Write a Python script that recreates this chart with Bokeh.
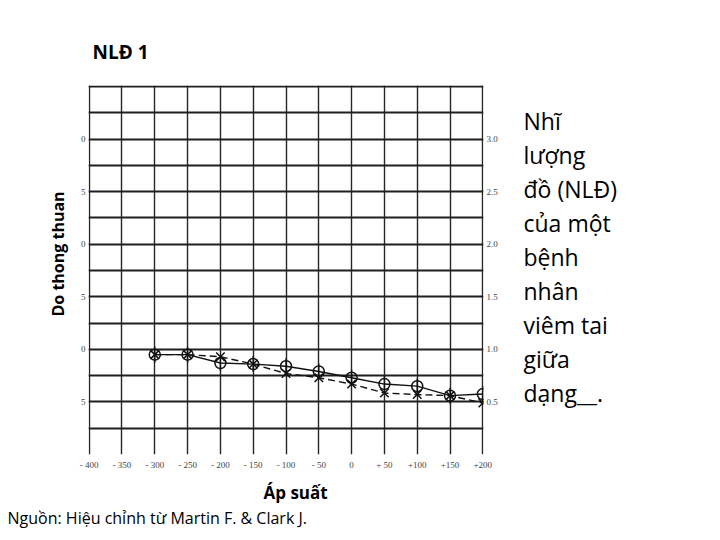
import math
from bokeh.plotting import figure
from bokeh.layouts import row
from bokeh.models import Range1d, FixedTicker, LinearAxis, Label, Title
from bokeh.embed import file_html
from bokeh.resources import INLINE

# ---- data ----
pressure = [-300, -250, -200, -150, -100, -50, 0, 50, 100, 150, 200]
compliance_circle = [0.95, 0.95, 0.87, 0.86, 0.84, 0.79, 0.73, 0.67, 0.65, 0.56, 0.575]
compliance_cross = [0.95, 0.95, 0.93, 0.86, 0.77, 0.73, 0.67, 0.585, 0.57, 0.56, 0.49]

x_ticks = [-400, -350, -300, -250, -200, -150, -100, -50, 0, 50, 100, 150, 200]
x_tick_labels = ["- 400", "- 350", "- 300", "- 250", "- 200", "- 150", "- 100",
                 "- 50", "0", "+ 50", "+100", "+150", "+200"]
y_ticks = [0.5, 1.0, 1.5, 2.0, 2.5, 3.0]
y_right_labels = ["0.5", "1.0", "1.5", "2.0", "2.5", "3.0"]
y_left_labels = ["5", "0", "5", "0", "5", "0"]
y_grid = [0.25, 0.5, 0.75, 1.0, 1.25, 1.5, 1.75, 2.0, 2.25, 2.5, 2.75, 3.0, 3.25, 3.5]

title_text = "NLĐ 1"
y_title = "Do thong thuan"
x_title = "Áp suất"
source_text = "Nguồn: Hiệu chỉnh từ Martin F. & Clark J."
side_lines = ["Nhĩ", "lượng", "đồ (NLĐ)", "của một", "bệnh", "nhân", "viêm tai", "giữa", "dạng__."]

FONT = "Open Sans"
INK = "#111111"
TOP, BOTTOM = 85, 78

p = figure(width=513, height=532,
           x_range=Range1d(-401, 201), y_range=Range1d(0, 3.51),
           output_backend="svg", toolbar_location=None,
           min_border_left=88, min_border_right=30,
           min_border_top=TOP, min_border_bottom=BOTTOM,
           outline_line_color=None, background_fill_color="white",
           border_fill_color="white")

# title above
p.title.text = title_text
p.title.align = "left"
p.title.offset = 4
p.title.standoff = 41
p.title.text_font = FONT
p.title.text_font_size = "19px"
p.title.text_font_style = "bold"
p.title.text_color = "black"

# axes
xa = p.xaxis[0]
xa.ticker = FixedTicker(ticks=x_ticks)
xa.major_label_overrides = {t: l for t, l in zip(x_ticks, x_tick_labels)}
ya = p.yaxis[0]
ya.ticker = FixedTicker(ticks=y_ticks)
ya.major_label_overrides = {t: l for t, l in zip(y_ticks, y_left_labels)}
ra = LinearAxis(ticker=FixedTicker(ticks=y_ticks),
                major_label_overrides={t: l for t, l in zip(y_ticks, y_right_labels)})
p.add_layout(ra, "right")

for ax in [xa, ya, ra]:
    ax.axis_line_color = None
    ax.major_tick_line_color = None
    ax.minor_tick_line_color = None
    ax.major_tick_out = 0
    ax.major_tick_in = 0
    ax.minor_tick_out = 0
    ax.minor_tick_in = 0
    ax.major_label_text_font = "Liberation Serif"
    ax.major_label_text_font_size = "9px"
    ax.major_label_text_color = "#444444"
xa.major_label_standoff = 5
ya.major_label_standoff = 3
ra.major_label_standoff = 3

# axis titles as side titles
p.add_layout(Title(text=y_title, align="left", offset=138, standoff=17,
                   text_font=FONT, text_font_size="16px", text_font_style="bold",
                   text_color="black"), "left")
p.add_layout(Title(text=x_title, align="left", offset=175, standoff=12,
                   text_line_height=0.7,
                   text_font=FONT, text_font_size="17px", text_font_style="bold",
                   text_color="black"), "below")
src_title = Title(text=source_text, align="left", offset=-81, standoff=0,
                  text_font=FONT, text_font_size="16px", text_font_style="normal",
                  text_color="black")
try:
    src_title.standoff = -9
except Exception:
    src_title.standoff = 0
p.add_layout(src_title, "below")

# grid
p.xgrid.grid_line_color = "#262626"
p.xgrid.grid_line_width = 1.4
p.xgrid.grid_line_alpha = 1.0
p.ygrid.ticker = FixedTicker(ticks=y_grid)
p.ygrid.grid_line_color = "#1e1e1e"
p.ygrid.grid_line_width = 1.8
p.ygrid.grid_line_alpha = 1.0

# series
p.line(pressure, compliance_circle, line_color=INK, line_width=1.4)
p.line(pressure, compliance_cross, line_color=INK, line_width=1.4, line_dash="7 4")
p.scatter(pressure, compliance_circle, marker="circle", size=11, fill_color=None,
          line_color=INK, line_width=1.5)
p.scatter(pressure, compliance_circle, marker="dash", angle=math.pi / 2, size=16,
          line_color=INK, line_width=1.4)
p.scatter(pressure, compliance_cross, marker="x", size=12,
          line_color=INK, line_width=1.5)

# side text panel (frame aligned with the chart frame)
side = figure(width=199, height=532, x_range=Range1d(0, 1), y_range=Range1d(0, 1),
              output_backend="svg", toolbar_location=None, title=None,
              x_axis_type=None, y_axis_type=None,
              min_border_left=0, min_border_right=0,
              min_border_top=TOP, min_border_bottom=BOTTOM,
              outline_line_color=None, background_fill_color="white",
              border_fill_color="white")
side.xgrid.visible = False
side.ygrid.visible = False
for i, line in enumerate(side_lines):
    side.add_layout(Label(x=10, y=334 - 34 * i, x_units="screen", y_units="screen",
                          text=line, text_baseline="alphabetic", text_font=FONT,
                          text_font_size="23px", text_color="black"))

layout = row(p, side, spacing=0)
open("out.html", "w").write(file_html(layout, INLINE))
